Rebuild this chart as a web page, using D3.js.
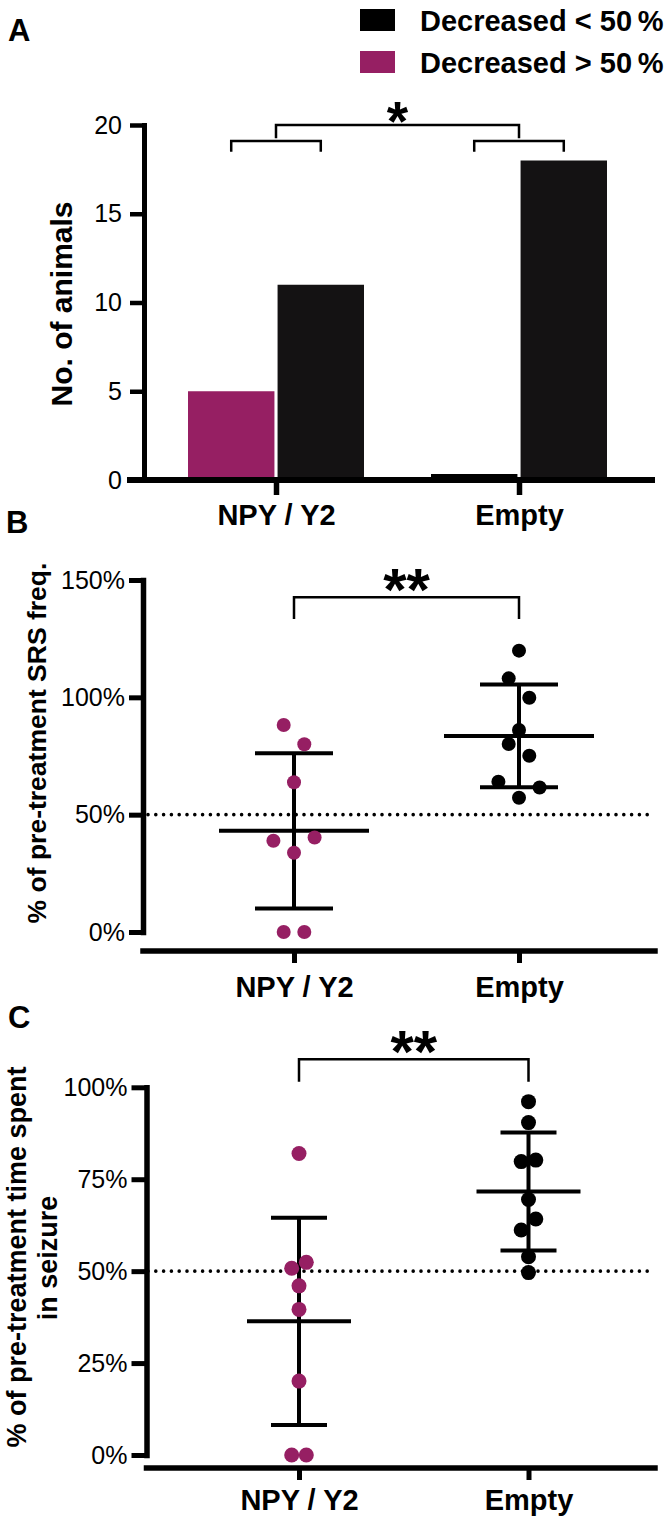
<!DOCTYPE html>
<html>
<head>
<meta charset="utf-8">
<script src="https://cdn.jsdelivr.net/npm/d3@7"></script>
<style>
  body { margin: 0; background: #fff; }
</style>
</head>
<body>
<div class="canvas"></div>
<script>
'use strict';

// ---- data ----
const groups = ['NPY / Y2', 'Empty'];
const legendLabels = ['Decreased < 50\u2009%', 'Decreased > 50\u2009%'];
const decreasedOver50 = [5, 0];
const decreasedUnder50 = [11, 18];
const countTicks = [0, 5, 10, 15, 20];

// % of pre-treatment SRS frequency (one value per animal)
const srsNpy = [88.2, 80.0, 63.8, 33.8, 38.9, 40.3, 0, 0];
const srsEmpty = [119.9, 108.1, 99.8, 86.1, 80.1, 75.1, 57.2, 64.0, 61.6];
const srsTicks = [0, 50, 100, 150];

// % of pre-treatment time spent in seizure
const seizureNpy = [82.0, 50.8, 52.4, 46.0, 39.6, 20.1, 0, 0];
const seizureEmpty = [96.1, 90.4, 79.8, 80.2, 69.5, 61.2, 64.2, 53.9, 49.6];
const seizureTicks = [0, 25, 50, 75, 100];

const refLine = 50;
const sigA = '*';
const sigB = '**';
const sigC = '**';

// ---- styles ----
const FONT = "'Liberation Sans', Arial, Helvetica, sans-serif";
const magenta = '#961f63';
const black = '#141213';
const ZERO_STUB = 6;

const svg = d3.select('.canvas')
    .append('svg')
    .attr('width', 664)
    .attr('height', 1521)
    .style('font-family', FONT);

const styleAxis = (g, width, fontSize, bold) => {
    g.attr('font-family', FONT).attr('font-size', fontSize);
    g.select('.domain').attr('stroke-width', width).attr('stroke-linecap', 'square');
    g.selectAll('.tick line').attr('stroke-width', width - 0.5);
    g.selectAll('.tick text').attr('fill', '#000').attr('font-weight', bold ? 'bold' : 'normal');
};

const bracket = (x1, x2, yTop, yLeg) => {
    svg.append('path')
        .attr('d', `M${x1},${yLeg}V${yTop}H${x2}V${yLeg}`)
        .attr('fill', 'none')
        .attr('stroke', '#000')
        .attr('stroke-width', 2.5);
};

const label = (x, y, txt, size, weight) => svg.append('text')
    .attr('x', x).attr('y', y)
    .attr('font-size', size)
    .attr('font-weight', weight || 'bold')
    .text(txt);

const rotatedLabel = (x, y, txt, size) => svg.append('text')
    .attr('transform', `translate(${x},${y}) rotate(-90)`)
    .attr('text-anchor', 'middle')
    .attr('font-size', size)
    .attr('font-weight', 'bold')
    .text(txt);

label(8, 41, 'A', 31);
label(6, 533, 'B', 31);
label(8, 1028, 'C', 31);

// ================= Panel A =================
const yA = d3.scaleLinear().domain([0, 20]).range([480, 125]);
const xA = d3.scalePoint().domain(groups).range([276, 519]);
const inner = d3.scaleBand().domain(['over', 'under']).range([-88, 88]).paddingInner(0.035);
const barColour = d3.scaleOrdinal().domain(['over', 'under']).range([magenta, black]);

const bars = groups.flatMap((g, i) => [
    { group: g, key: 'over', value: decreasedOver50[i] },
    { group: g, key: 'under', value: decreasedUnder50[i] }
]);

svg.append('g').selectAll('rect')
    .data(bars)
    .enter().append('rect')
    .attr('x', d => xA(d.group) + inner(d.key))
    .attr('width', inner.bandwidth())
    .attr('y', d => d.value > 0 ? yA(d.value) : yA(0) - ZERO_STUB)
    .attr('height', d => d.value > 0 ? yA(0) - yA(d.value) : ZERO_STUB)
    .attr('fill', d => d.value > 0 ? barColour(d.key) : '#000');

const axisAy = svg.append('g')
    .attr('transform', 'translate(144,0)')
    .call(d3.axisLeft(yA).tickValues(countTicks).tickSize(14).tickSizeOuter(0).tickPadding(8));
styleAxis(axisAy, 5, 25, false);

const axisAx = svg.append('g')
    .attr('transform', 'translate(0,480)')
    .call(d3.axisBottom(xA).tickSize(15).tickSizeOuter(0).tickPadding(9));
axisAx.select('.domain').attr('d', 'M130,0H652');
styleAxis(axisAx, 6, 29, true);

rotatedLabel(72, 304, 'No. of animals', 30);

// significance brackets
const lowMid = groups.map(g => {
    const x1 = xA(g) + inner('over') + inner.bandwidth() / 2;
    const x2 = xA(g) + inner('under') + inner.bandwidth() / 2;
    bracket(x1, x2, yA(19.1), yA(18.5));
    return (x1 + x2) / 2;
});
bracket(lowMid[0], lowMid[1], yA(20), yA(19.25));
label((lowMid[0] + lowMid[1]) / 2, yA(20) + 15, sigA, 55).attr('text-anchor', 'middle');

// legend
const legendItems = [
    { label: legendLabels[0], colour: '#000' },
    { label: legendLabels[1], colour: magenta }
];
const legend = svg.append('g').selectAll('g')
    .data(legendItems)
    .enter().append('g')
    .attr('transform', (d, i) => `translate(360,${9 + i * 42})`);
legend.append('rect').attr('width', 35).attr('height', 22).attr('fill', d => d.colour);
legend.append('text')
    .attr('x', 60).attr('y', 22)
    .attr('font-size', 29)
    .attr('font-weight', 'bold')
    .text(d => d.label);

// ================= Panels B & C =================
// GraphPad-style column scatter: close points share a row, spread around the centre
const swarm = (values, yScale, step) => {
    const items = values.map((v, i) => ({ v, i, py: yScale(v) }));
    const sorted = items.slice().sort((a, b) => d3.ascending(a.v, b.v) || a.i - b.i);
    const rows = [];
    sorted.forEach(p => {
        const row = rows[rows.length - 1];
        if (row && Math.abs(row[0].py - p.py) < step) row.push(p);
        else rows.push([p]);
    });
    rows.forEach(row => {
        row.sort((a, b) => a.i - b.i);
        const n = row.length;
        const slots = d3.range(n).map(k => (k - (n - 1) / 2) * step)
            .sort((a, b) => Math.abs(a) - Math.abs(b) || a - b);
        row.forEach((p, k) => { p.dx = slots[k]; });
    });
    return items;
};

const scatterPanel = cfg => {
    const { y, x, series, ticks, axisX, axisY, step, r, meanHalf, capHalf } = cfg;

    svg.append('line')
        .attr('x1', 148).attr('x2', 655)
        .attr('y1', y(refLine)).attr('y2', y(refLine))
        .attr('stroke', '#000')
        .attr('stroke-width', 3.6)
        .attr('stroke-linecap', 'round')
        .attr('stroke-dasharray', '0 7.8');

    series.forEach((s, gi) => {
        const cx = x(groups[gi]);
        const m = d3.mean(s.values);
        const sd = d3.deviation(s.values);
        const eb = svg.append('g').attr('stroke', '#000').attr('stroke-width', 4);
        eb.append('line').attr('x1', cx).attr('x2', cx).attr('y1', y(m + sd)).attr('y2', y(m - sd));
        eb.append('line').attr('x1', cx - meanHalf).attr('x2', cx + meanHalf).attr('y1', y(m)).attr('y2', y(m));
        [m + sd, m - sd].forEach(v => {
            eb.append('line').attr('x1', cx - capHalf).attr('x2', cx + capHalf).attr('y1', y(v)).attr('y2', y(v));
        });

        svg.append('g').selectAll('circle')
            .data(swarm(s.values, y, step))
            .enter().append('circle')
            .attr('cx', d => cx + d.dx)
            .attr('cy', d => d.py)
            .attr('r', r)
            .attr('fill', s.colour);
    });

    const ay = svg.append('g')
        .attr('transform', `translate(${axisY.x},0)`)
        .call(d3.axisLeft(y).tickValues(ticks).tickSize(axisY.tick).tickSizeOuter(0)
            .tickPadding(4).tickFormat(d => d + '%'));
    styleAxis(ay, 5.5, 25, false);

    const ax = svg.append('g')
        .attr('transform', `translate(0,${axisX.y})`)
        .call(d3.axisBottom(x).tickSize(12).tickSizeOuter(0).tickPadding(axisX.pad));
    ax.select('.domain').attr('d', `M${axisY.x},0H655`);
    styleAxis(ax, 5.5, 29, true);

    bracket(x(groups[0]), x(groups[1]), y(cfg.bracket[0]), y(cfg.bracket[1]));
    label((x(groups[0]) + x(groups[1])) / 2, y(cfg.bracket[0]) + 13, cfg.sig, 60)
        .attr('text-anchor', 'middle');
};

const yB = d3.scaleLinear().domain([0, 150]).range([932, 580]);
const xB = d3.scalePoint().domain(groups).range([294, 519]);
scatterPanel({
    y: yB, x: xB, ticks: srsTicks,
    series: [{ values: srsNpy, colour: magenta }, { values: srsEmpty, colour: '#000' }],
    axisX: { y: 951, pad: 13 }, axisY: { x: 143, tick: 14 },
    step: 20.6, r: 7, meanHalf: 75, capHalf: 39,
    bracket: [142.6, 133.4], sig: sigB
});
rotatedLabel(46, 743, '% of pre-treatment SRS freq.', 26.5);

const yC = d3.scaleLinear().domain([0, 100]).range([1455, 1087.3]);
const xC = d3.scalePoint().domain(groups).range([299, 528.5]);
scatterPanel({
    y: yC, x: xC, ticks: seizureTicks,
    series: [{ values: seizureNpy, colour: magenta }, { values: seizureEmpty, colour: '#000' }],
    axisX: { y: 1468, pad: 9 }, axisY: { x: 146.5, tick: 15 },
    step: 14.6, r: 7.5, meanHalf: 52, capHalf: 28,
    bracket: [107.6, 101.5], sig: sigC
});
rotatedLabel(25.5, 1257, '% of pre-treatment time spent', 27);
rotatedLabel(57, 1258, 'in seizure', 27);
</script>
</body>
</html>
